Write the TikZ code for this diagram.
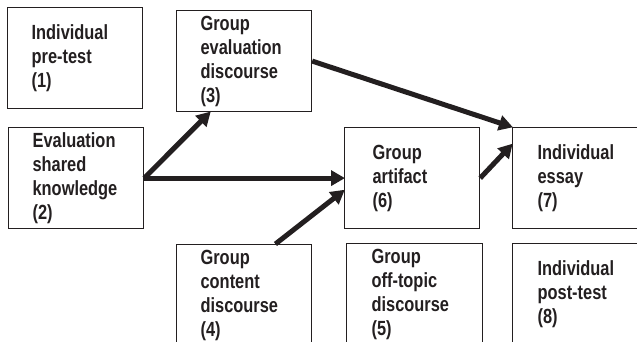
\documentclass[tikz,border=0pt]{standalone}
\usepackage{fontspec}
\setmainfont{Liberation Sans}
\newfontfamily\boxfont[FakeStretch=0.8]{Liberation Sans Bold}
\usetikzlibrary{arrows.meta,calc}
\definecolor{ink}{HTML}{231F20}
\begin{document}
\begin{tikzpicture}[x=1pt,y=-1pt,
  box/.style={draw=ink, line width=1.2pt, anchor=north west, minimum height=101pt,
    text width=87pt, inner xsep=24pt, inner ysep=0pt, align=left, text=ink,
    font=\boxfont\fontsize{20.5}{24}\selectfont},
  conn/.style={draw=ink, line width=5pt, -{Triangle[length=14pt,width=15pt]}, shorten >=-1pt}]
\useasboundingbox (0,0) rectangle (637,342);
\clip (0,0) rectangle (637,342);
\node[box] (b1) at (7,7) {Individual\\pre-test\\(1)};
\node[box] (b2) at (8,127) {Evaluation\\shared\\knowledge\\(2)};
\node[box] (b3) at (176,10) {Group\\evaluation\\discourse\\(3)};
\node[box] (b4) at (176,244) {Group\\content\\discourse\\(4)};
\node[box, text width=79pt, inner xsep=28pt] (b6) at (344,127) {Group\\artifact\\(6)};
\node[box, text width=86pt, inner xsep=25pt] (b5) at (346,243) {Group\\off-topic\\discourse\\(5)};
\node[box, text width=86pt, inner xsep=25pt] (b7) at (512,127) {Individual\\essay\\(7)};
\node[box, text width=86pt, inner xsep=25pt] (b8) at (512,243) {Individual\\post-test\\(8)};
\draw[conn] (b2.east) -- ($(b3.south west)!0.25!(b3.south east)$);
\draw[conn] (b2.east) -- (b6.west);
\draw[conn] ($(b4.north west)!0.73!(b4.north east)$) -- ($(b6.north west)!0.62!(b6.south west)$);
\draw[conn] (b3.east) -- (b7.north west);
\draw[conn] (b6.east) -- ($(b7.north west)!0.17!(b7.south west)$);
\end{tikzpicture}
\end{document}
